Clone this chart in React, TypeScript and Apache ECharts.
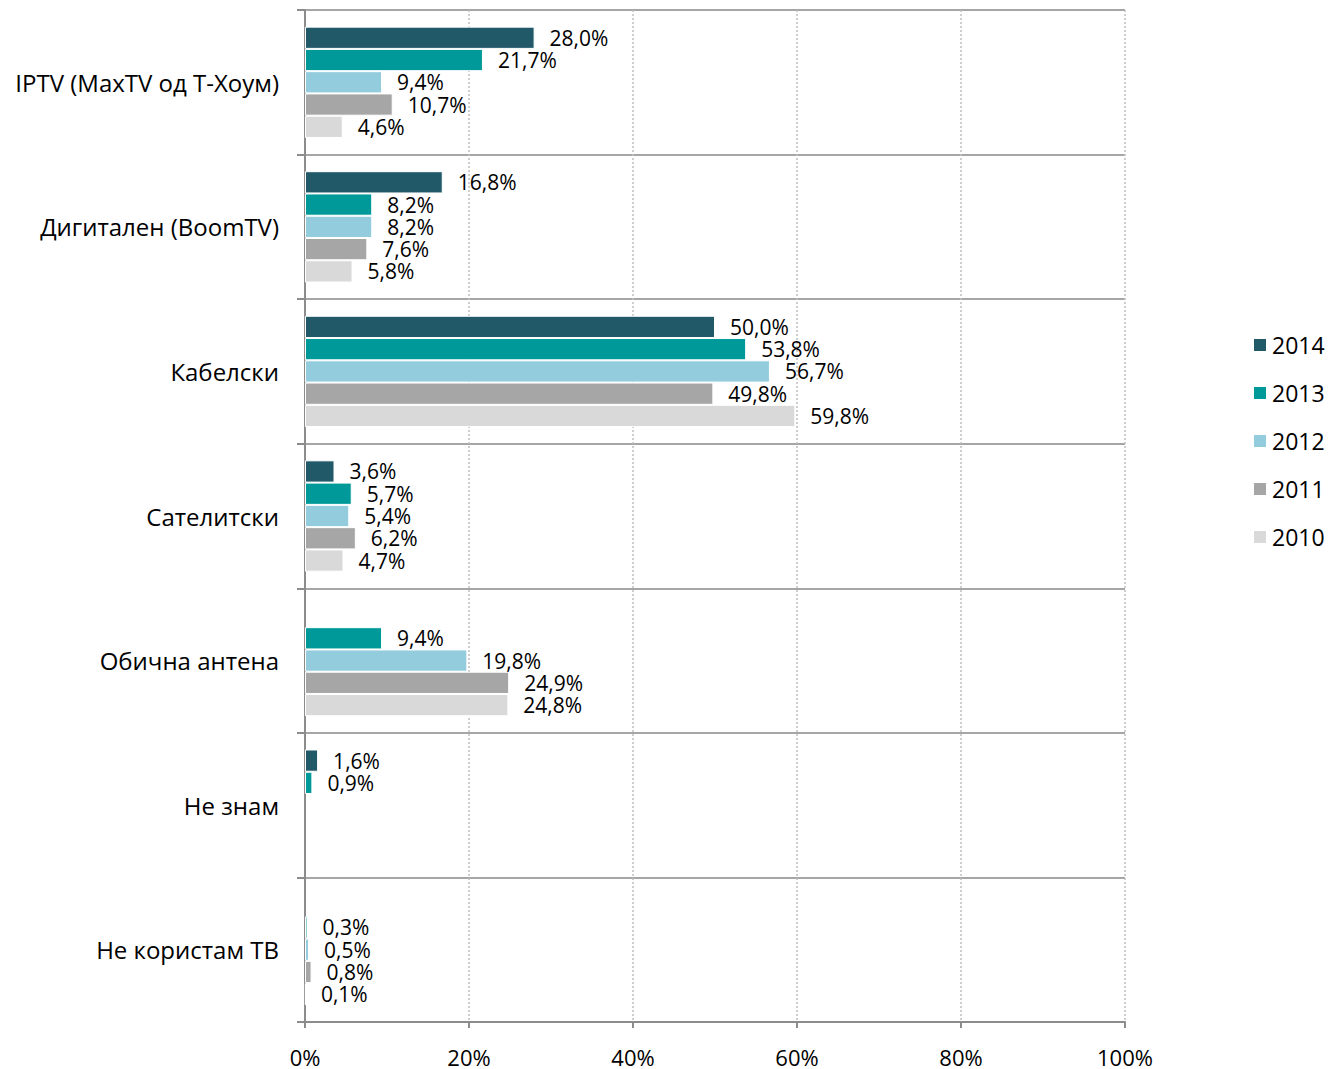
import React, { useEffect, useRef } from "react";
import * as echarts from "echarts";

const categories = [
  "IPTV (MaxTV од Т-Хоум)",
  "Дигитален (BoomTV)",
  "Кабелски",
  "Сателитски",
  "Обична антена",
  "Не знам",
  "Не користам ТВ",
];
const years = ["2014", "2013", "2012", "2011", "2010"];
const v2014 = [28.0, 16.8, 50.0, 3.6, null, 1.6, null];
const v2013 = [21.7, 8.2, 53.8, 5.7, 9.4, 0.9, 0.3];
const v2012 = [9.4, 8.2, 56.7, 5.4, 19.8, null, 0.5];
const v2011 = [10.7, 7.6, 49.8, 6.2, 24.9, null, 0.8];
const v2010 = [4.6, 5.8, 59.8, 4.7, 24.8, null, 0.1];
const colors = ["#215968", "#009999", "#93CDDD", "#A6A6A6", "#D9D9D9"];
const xTicks = { min: 0, max: 100, interval: 20 };

const FONT = "'Open Sans', 'Noto Sans', sans-serif";

export default function App() {
  const ref = useRef<HTMLDivElement>(null);
  useEffect(() => {
    document.body.style.margin = "0";
    document.body.style.overflow = "hidden";
    if (!ref.current) return;
    const chart = echarts.init(ref.current, null, { renderer: "svg" });
    const all = [v2014, v2013, v2012, v2011, v2010];
    chart.setOption({
      animation: false,
      textStyle: { fontFamily: FONT },
      grid: { left: 305, right: 205, top: 10, bottom: 47, containLabel: false },
      legend: {
        orient: "vertical",
        left: 1252,
        top: 330,
        padding: 0,
        itemWidth: 14,
        itemHeight: 14,
        itemGap: 18,
        icon: "rect",
        data: years,
        textStyle: { fontSize: 23, lineHeight: 30, color: "#000", fontFamily: FONT },
      },
      xAxis: {
        type: "value",
        min: xTicks.min,
        max: xTicks.max,
        interval: xTicks.interval,
        axisLine: { show: true, lineStyle: { color: "#8c8c8c", width: 2 } },
        axisTick: { show: true, length: 6, lineStyle: { color: "#8c8c8c", width: 2 } },
        axisLabel: { formatter: "{value}%", fontSize: 22, lineHeight: 22, color: "#000", margin: 24, fontFamily: FONT },
        splitLine: { show: true, lineStyle: { color: "#bfbfbf", type: [2, 2], width: 1.5 } },
      },
      yAxis: {
        type: "category",
        data: categories,
        inverse: true,
        axisLine: { show: true, lineStyle: { color: "#8c8c8c", width: 2 } },
        axisTick: { show: true, length: 8, lineStyle: { color: "#8c8c8c", width: 2 } },
        axisLabel: { fontSize: 24, color: "#000", margin: 26, fontFamily: FONT },
        splitLine: { show: true, lineStyle: { color: "#a6a6a6", width: 2 } },
      },
      series: years.map((y, i) => ({
        name: y,
        type: "bar",
        data: all[i],
        barGap: "0%",
        barCategoryGap: "23%",
        itemStyle: { color: colors[i], borderColor: "#fff", borderWidth: 1 },
        label: {
          show: true,
          position: "right",
          distance: 15,
          fontSize: 21,
          lineHeight: 20,
          color: "#000",
          fontFamily: FONT,
          formatter: (p: any) =>
            p.value == null ? "" : Number(p.value).toFixed(1).replace(".", ",") + "%",
        },
      })),
    });
    return () => chart.dispose();
  }, []);
  return <div ref={ref} style={{ width: 1330, height: 1069 }} />;
}
